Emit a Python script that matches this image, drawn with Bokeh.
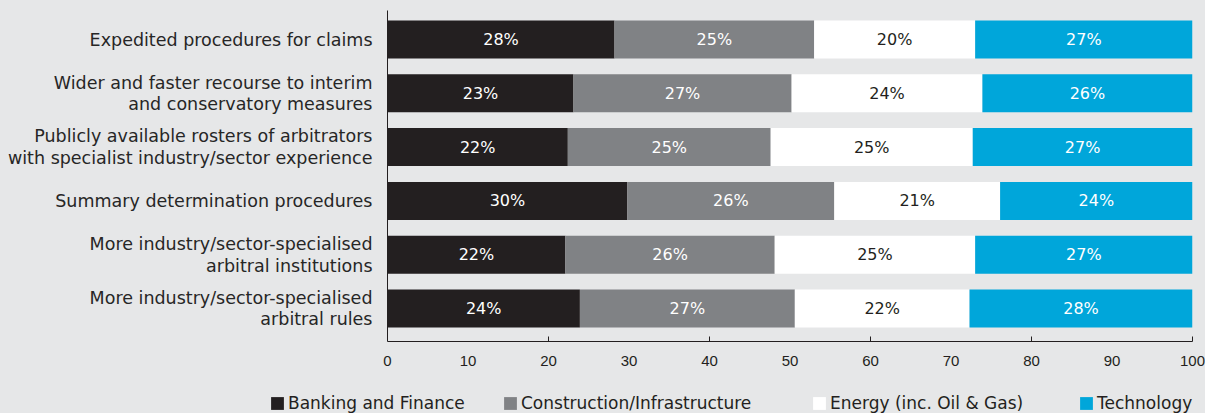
from bokeh.plotting import figure
from bokeh.models import (ColumnDataSource, Range1d, FixedTicker, Legend, LegendItem)
from bokeh.core.properties import value
from bokeh.embed import file_html
from bokeh.resources import INLINE

categories = [
    "Expedited procedures for claims",
    "Wider and faster recourse to interim\nand conservatory measures",
    "Publicly available rosters of arbitrators\nwith specialist industry/sector experience",
    "Summary determination procedures",
    "More industry/sector-specialised\narbitral institutions",
    "More industry/sector-specialised\narbitral rules",
]
series_names = ["Banking and Finance", "Construction/Infrastructure",
                "Energy (inc. Oil & Gas)", "Technology"]
banking = [28.2, 23.1, 22.4, 29.8, 22.1, 23.9]
construction = [24.8, 27.1, 25.2, 25.7, 26.0, 26.7]
energy = [20.0, 23.7, 25.1, 20.6, 24.9, 21.7]
technology = [27.0, 26.1, 27.3, 23.9, 27.0, 27.7]
x_ticks = [0, 10, 20, 30, 40, 50, 60, 70, 80, 90, 100]
x_tick_marks = [20, 40, 60, 80, 100]

series = [banking, construction, energy, technology]
colors = ["#231f20", "#808285", "#ffffff", "#00a6da"]
text_colors = ["#ffffff", "#ffffff", "#231f20", "#ffffff"]
legend_x = [269, 502, 811, 1078]

BG = "#e6e7e8"
FONT = "DejaVu Sans"
TICK_FONT = "Liberation Sans"

p = figure(width=1205, height=380, x_range=Range1d(0, 100),
           y_range=Range1d(5.613, -0.539),
           output_backend="svg", toolbar_location=None,
           min_border_left=387, min_border_right=13,
           min_border_top=10, min_border_bottom=39)
p.background_fill_color = BG
p.border_fill_color = BG
p.outline_line_color = None
p.xgrid.visible = False
p.ygrid.visible = False

# legend strip (separate root, frame covers it completely)
p2 = figure(width=1205, height=33, x_range=Range1d(0, 1205), y_range=Range1d(0, 33),
            output_backend="svg", toolbar_location=None,
            x_axis_location=None, y_axis_location=None, min_border=0)
p2.background_fill_color = BG
p2.border_fill_color = BG
p2.outline_line_color = None
p2.xgrid.visible = False
p2.ygrid.visible = False

rows = list(range(len(categories)))
cum = [0.0] * len(categories)
sources = []
for vals, col, tcol in zip(series, colors, text_colors):
    left = cum[:]
    right = [a + b for a, b in zip(left, vals)]
    mid = [(a + b) / 2 for a, b in zip(left, right)]
    src = ColumnDataSource(dict(y=rows, left=left, right=right, mid=mid,
                                lab=[f"{round(v)}%" for v in vals]))
    sources.append(src)
    p.hbar(y="y", left="left", right="right", height=0.706, source=src,
           fill_color=col, line_color=None)
    p.text(x="mid", y="y", text="lab", source=src, text_align="center",
           text_baseline="middle", text_color=tcol, text_font_size="16px",
           text_font=value(FONT))
    cum = right

# x axis
xa = p.xaxis[0]
xa.ticker = FixedTicker(ticks=x_ticks, minor_ticks=x_tick_marks)
xa.major_tick_in = 0
xa.major_tick_out = 0
xa.minor_tick_in = 5
xa.minor_tick_out = 0
xa.minor_tick_line_color = "#231f20"
xa.axis_line_color = "#231f20"
xa.major_label_text_font = TICK_FONT
xa.major_label_text_font_size = "15px"
xa.major_label_text_color = "#231f20"
xa.major_label_standoff = 14

# y axis
ya = p.yaxis[0]
ya.ticker = FixedTicker(ticks=rows, minor_ticks=[])
ya.major_label_overrides = {i: c for i, c in enumerate(categories)}
ya.major_tick_in = 0
ya.major_tick_out = 0
ya.minor_tick_line_color = None
ya.axis_line_color = "#231f20"
ya.major_label_text_font = FONT
ya.major_label_text_font_size = "17.5px"
ya.major_label_text_color = "#262626"
ya.major_label_text_line_height = 1.08
ya.major_label_standoff = 15

for name, col, lx, src in zip(series_names, colors, legend_x, sources):
    proxy = p2.hbar(y="y", left="left", right="right", height=0.706, source=src,
                    fill_color=col, line_color=None, visible=False)
    lg = Legend(items=[LegendItem(label=name, renderers=[proxy])],
                location=(lx, 0), orientation="horizontal",
                glyph_width=16, glyph_height=16, label_height=16,
                label_standoff=3, padding=0, margin=0, spacing=0,
                border_line_color=None, background_fill_alpha=0,
                label_text_font=FONT, label_text_font_size="17px",
                label_text_color="#231f20")
    p2.add_layout(lg, "center")

html = file_html([p, p2], INLINE)
html = html.replace("<head>", "<head><style>html, body { background: %s; }</style>" % BG, 1)
open("out.html", "w").write(html)
